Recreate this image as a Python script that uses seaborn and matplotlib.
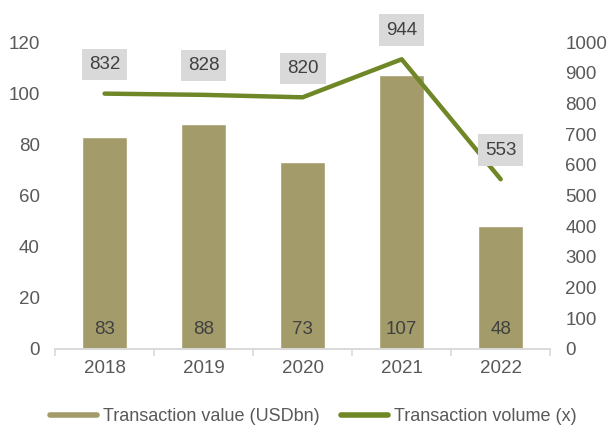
import matplotlib
matplotlib.use("Agg")
import matplotlib.pyplot as plt
from matplotlib.lines import Line2D
import seaborn as sns
import pandas as pd
import numpy as np

# chart data
years = ["2018", "2019", "2020", "2021", "2022"]
tx_value = [83, 88, 73, 107, 48]
tx_volume = [832, 828, 820, 944, 553]

bar_color = "#a39c6a"
line_color = "#6f8727"
text_color = "#595959"
label_color = "#404040"
grid_color = "#d9d9d9"
fs = 13.5

sns.set_theme(style="white")
plt.rcParams['font.family'] = ['Liberation Sans', 'DejaVu Sans']

df = pd.DataFrame({"year": years, "value": tx_value, "volume": tx_volume})

fig = plt.figure(figsize=(6.12, 4.25), dpi=100)
ax = fig.add_axes([0.09, 0.179, 0.809, 0.722])

sns.barplot(data=df, x="year", y="value", color=bar_color, width=0.46,
            saturation=1, ax=ax)
ax.set_ylim(0, 120)
ax.set_xlim(-0.5, 4.5)
ax.set_yticks(range(0, 121, 20))
ax.set_xlabel("")
ax.set_ylabel("")

# value labels inside the bars
for i, v in enumerate(tx_value):
    ax.text(i, 7.5, str(v), ha="center", va="center", fontsize=fs, color=label_color)

ax2 = ax.twinx()
sns.lineplot(data=df, x="year", y="volume", color=line_color, linewidth=3.2,
             solid_capstyle="round", ax=ax2)
ax2.set_ylim(0, 1000)
ax2.set_yticks(range(0, 1001, 100))
ax2.set_ylabel("")
ax2.set_xlim(-0.5, 4.5)

for i, v in enumerate(tx_volume):
    ax2.annotate(str(v), (i, v), xytext=(0, 21), textcoords="offset points",
                 ha="center", va="center", fontsize=fs, color=label_color,
                 bbox=dict(boxstyle="square,pad=0.38", fc="#d9d9d9", ec="none"))

for a in (ax, ax2):
    for s in ["top", "left", "right"]:
        a.spines[s].set_visible(False)
    a.spines["bottom"].set_color(grid_color)
    a.spines["bottom"].set_linewidth(1.2)
    a.tick_params(axis="y", length=0, labelsize=fs, labelcolor=text_color, pad=11)

ax.tick_params(axis="x", which="major", length=0, labelsize=fs,
               labelcolor=text_color, pad=8)
ax.set_xticks(np.arange(-0.5, 5, 1), minor=True)
ax.tick_params(axis="x", which="minor", length=5, width=1.2, color=grid_color,
               direction="out", bottom=True)
ax2.tick_params(axis="x", length=0)

handles = [Line2D([0], [0], color=bar_color, linewidth=4),
           Line2D([0], [0], color=line_color, linewidth=4, solid_capstyle="round")]
fig.legend(handles, ["Transaction value (USDbn)", "Transaction volume (x)"],
           loc="center", bbox_to_anchor=(0.512, 0.02), ncol=2, frameon=False,
           fontsize=13, labelcolor=text_color, handlelength=2.6,
           handletextpad=0.35, columnspacing=1.15)

fig.savefig("out.png", dpi=100)
